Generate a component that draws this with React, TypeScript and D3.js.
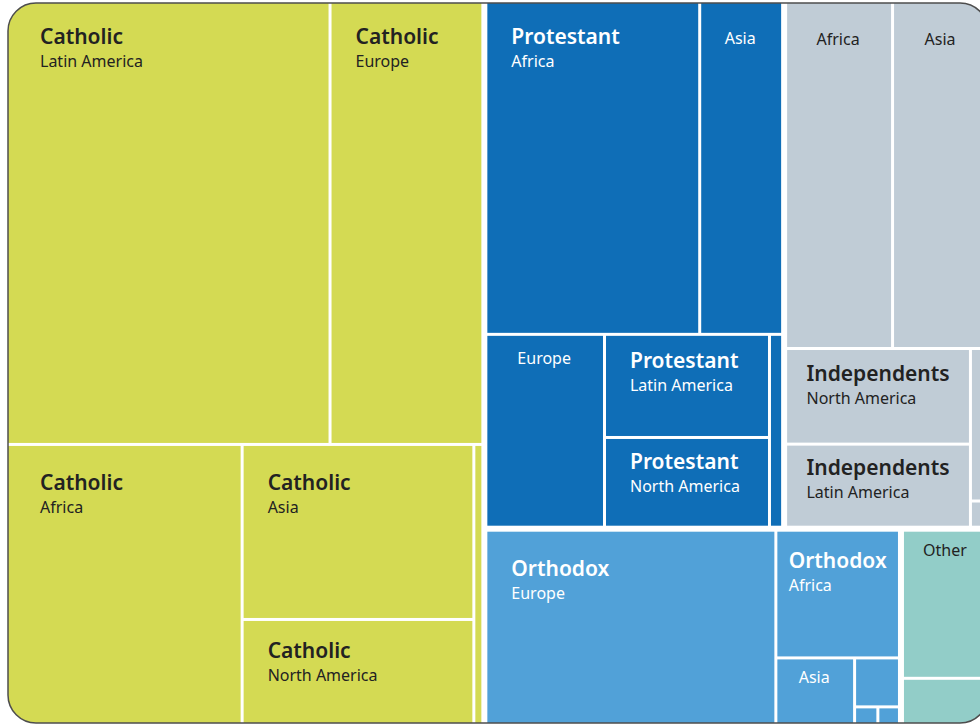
import React, { useMemo } from "react";
import * as d3 from "d3";

// Christians by tradition and region (millions, approximate)
const groups = ["Catholic", "Protestant", "Independents", "Orthodox", "Other"];
const regions = ["Latin America", "Europe", "Africa", "Asia", "North America", "Oceania"];
const catholic = [483.4, 228.3, 222.6, 136.8, 82.1, 8.5];
const protestant = [57.7, 77.6, 241.4, 93.6, 50.2, 8.6];
const independents = [52.3, 9.9, 126.4, 114.6, 60.2, 1.7];
const orthodox = [1.4, 192.4, 53.9, 17.9, 7.5, 1.3];
const other = [45.2, 14.1];
const otherParts = ["Other", "Other"];

const groupColors = ["#d4da53", "#0f6eb7", "#c0ccd6", "#51a1d8", "#92cdc8"];
const groupTextColors = ["#222222", "#ffffff", "#222222", "#ffffff", "#222222"];

const WIDTH = 980;
const HEIGHT = 724;
const X0 = 8;
const Y0 = 3;
const W = 980; // treemap box (runs past the right edge of the window)
const H = 720;
const FONT = "'Noto Sans', 'Open Sans', sans-serif";

// squarify, but run in a horizontally stretched frame
const STRETCH = 1.34;
const RATIO = 1.567;
const tile = (node: any, x0: number, y0: number, x1: number, y1: number) => {
  d3.treemapSquarify.ratio(RATIO)(node, x0 * STRETCH, y0, x1 * STRETCH, y1);
  for (const c of node.children) {
    c.x0 /= STRETCH;
    c.x1 /= STRETCH;
  }
};

let ctx: CanvasRenderingContext2D | null = null;
const measure = (text: string, font: string) => {
  if (!ctx) ctx = document.createElement("canvas").getContext("2d");
  if (!ctx) return text.length * 9;
  ctx.font = font;
  return ctx.measureText(text).width;
};

const clamp = (v: number, lo: number, hi: number) => Math.max(lo, Math.min(hi, v));

export default function App() {
  const leaves = useMemo(() => {
    const series = [catholic, protestant, independents, orthodox, other];
    const data = {
      name: "root",
      children: groups.map((g, i) => ({
        name: g,
        children: series[i].map((v, j) => ({
          name: g === "Other" ? otherParts[j] : regions[j],
          value: v,
        })),
      })),
    };
    const root = d3
      .hierarchy<any>(data)
      .sum((d: any) => d.value || 0)
      .sort((a: any, b: any) => b.value - a.value);
    d3
      .treemap<any>()
      .size([W, H])
      .paddingInner((d: any) => (d.depth === 0 ? 6 : 3))
      .tile(tile as any)(root);
    return root.leaves() as any[];
  }, []);

  const color = d3.scaleOrdinal<string, string>().domain(groups).range(groupColors);
  const textColor = d3.scaleOrdinal<string, string>().domain(groups).range(groupTextColors);

  const groupFont = `600 21px ${FONT}`;
  const regionFont = `16px ${FONT}`;

  return (
    <svg
      width={WIDTH}
      height={HEIGHT}
      style={{ position: "absolute", left: 0, top: 0, fontFamily: FONT }}
    >
      <defs>
        <clipPath id="frame">
          <rect x={X0} y={Y0} width={W} height={H} rx={28} />
        </clipPath>
      </defs>
      <rect width={WIDTH} height={HEIGHT} fill="#fff" />
      <g clipPath="url(#frame)">
        {leaves.map((d, i) => (
          <rect
            key={i}
            x={X0 + d.x0}
            y={Y0 + d.y0}
            width={Math.max(0, d.x1 - d.x0)}
            height={Math.max(0, d.y1 - d.y0)}
            fill={color(d.parent.data.name)}
          />
        ))}
      </g>
      <rect
        x={X0}
        y={Y0}
        width={W}
        height={H}
        rx={28}
        fill="none"
        stroke="#4d4d4d"
        strokeWidth={1.5}
      />
      <g>
        {leaves.map((d, i) => {
          const g = d.parent.data.name;
          const w = d.x1 - d.x0;
          const h = d.y1 - d.y0;
          const gw = measure(g, groupFont);
          const rw = measure(d.data.name, regionFont);
          const fill = textColor(g);
          if (g !== "Other" && w >= gw + 18 && h >= 70) {
            const padX = Math.min(24, (w - gw) / 2) + (d.x0 < 1 ? 8 : 0);
            const padTop = clamp(h * 0.17, 13, 25) + (d.y0 > 400 && d.x0 < 480 ? 4 : 0);
            const base = Y0 + d.y0 + padTop + 15.5;
            return (
              <g key={i} fill={fill}>
                <text x={X0 + d.x0 + padX} y={base} fontSize={21} fontWeight={600}>
                  {g}
                </text>
                <text x={X0 + d.x0 + padX} y={base + 23} fontSize={16}>
                  {d.data.name}
                </text>
              </g>
            );
          }
          if (w >= rw + 10 && h >= 55) {
            const top = clamp(h * 0.09, 12, 30);
            return (
              <text
                key={i}
                x={X0 + (d.x0 + d.x1) / 2 - 1}
                y={Y0 + d.y0 + top + 11.5}
                fontSize={16}
                textAnchor="middle"
                fill={fill}
              >
                {d.data.name}
              </text>
            );
          }
          return null;
        })}
      </g>
    </svg>
  );
}
